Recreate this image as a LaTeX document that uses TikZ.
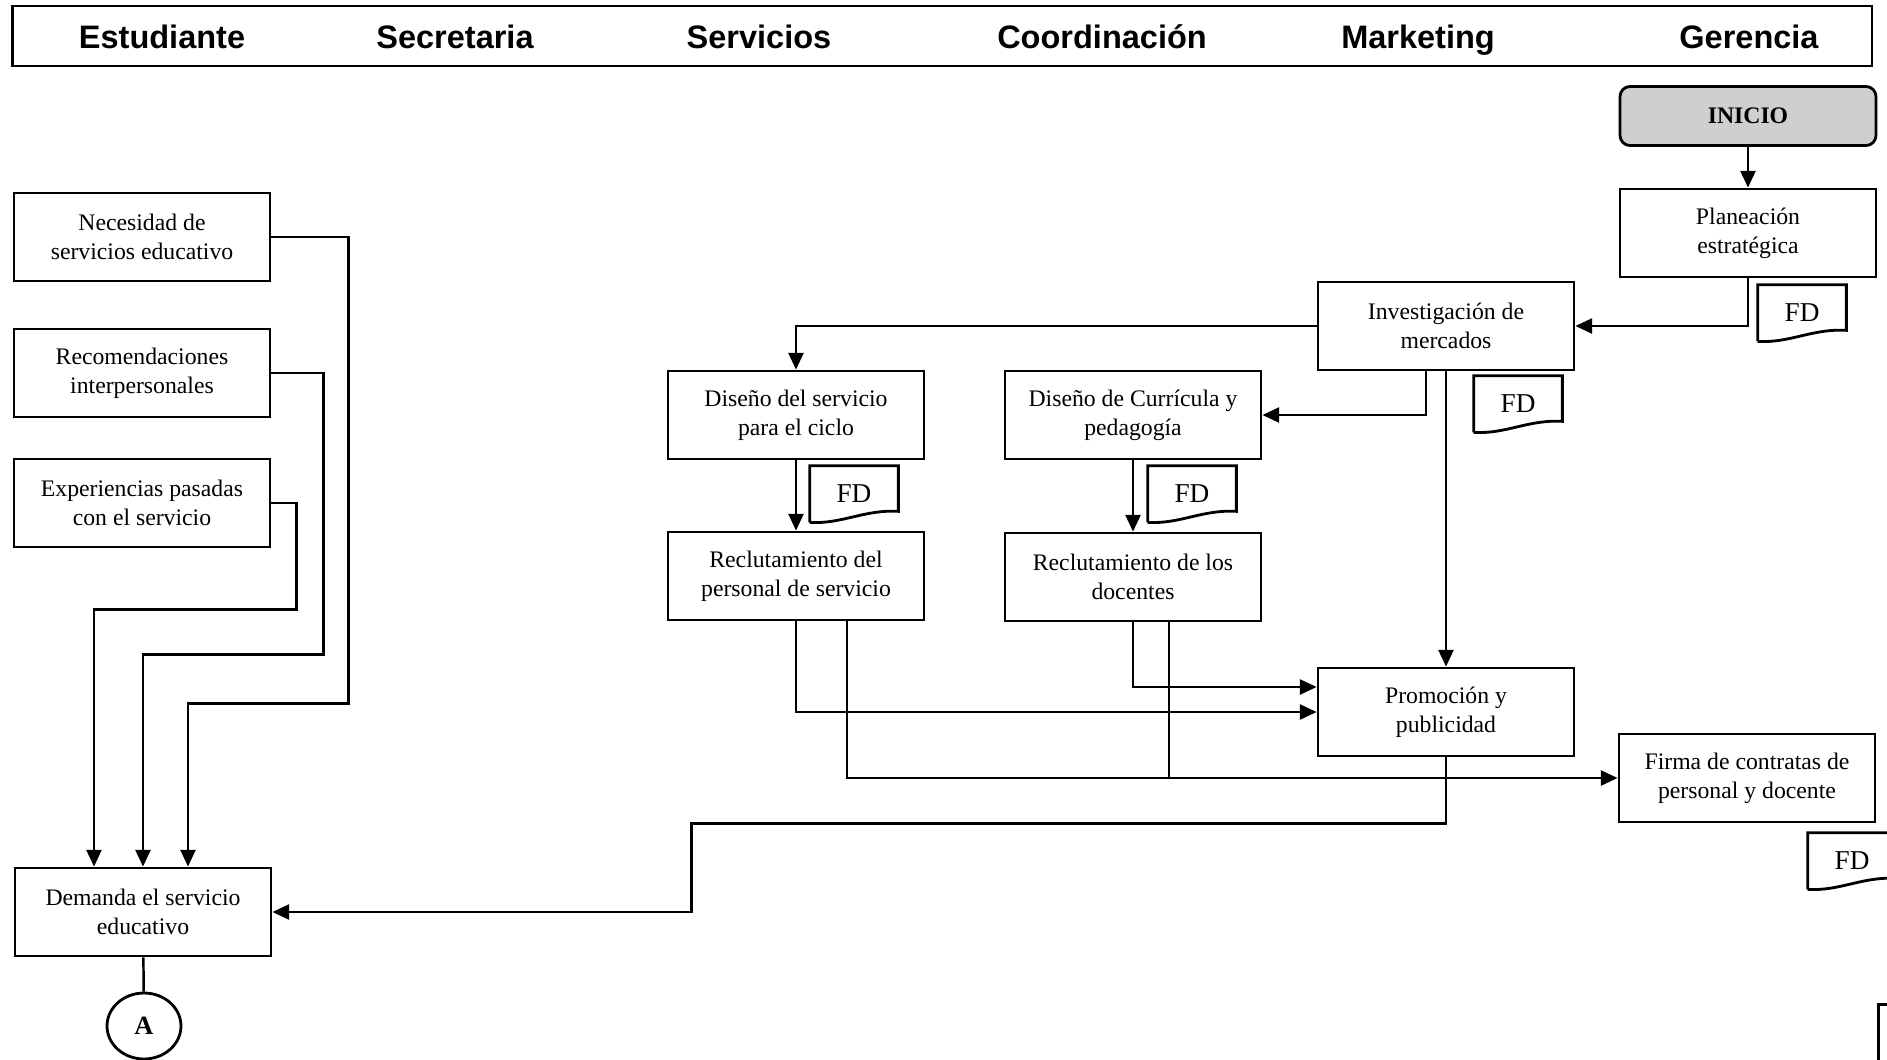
\documentclass[tikz,border=0pt]{standalone}
\usepackage{fontspec}
\setmainfont{Liberation Serif}
\newfontfamily\headfont{Liberation Sans}
\usetikzlibrary{calc, arrows.meta, shapes.geometric}

\tikzset{
    caja/.style={draw, line width=1.6pt, minimum width=5.12cm, minimum height=1.76cm,
        align=center, inner sep=2pt, font=\fontsize{13.5}{16.4}\selectfont},
    inicio/.style={caja, rounded corners=0.2cm, fill=gray!38, minimum height=1.18cm,
        font=\fontsize{13.5}{16}\selectfont\bfseries},
    fd/.style={minimum width=1.76cm, minimum height=1.12cm, inner sep=0pt,
        font=\fontsize{15.5}{18}\selectfont},
    conector/.style={ellipse, draw, line width=1.6pt, minimum width=1.48cm,
        minimum height=1.32cm, inner sep=0pt, font=\fontsize{15}{18}\selectfont\bfseries},
    carril/.style={font=\headfont\bfseries\fontsize{18.5}{22}\selectfont},
    linea/.style={line width=1.4pt},
    flecha/.style={linea, -{Triangle[length=9.5pt,width=8.5pt]}}
}

\begin{document}
\begin{tikzpicture}[x=0.02cm, y=-0.02cm]
    \useasboundingbox (0,0) rectangle (1887,1059);

    % encabezado
    \node[draw, line width=1.5pt, minimum width=37.2cm, minimum height=1.2cm, inner sep=0pt] (cab) at (942,36) {};
    \foreach \x/\t [count=\i] in {162/Estudiante, 455/Secretaria, 759/Servicios,
        1102/Coordinación, 1418/Marketing, 1749/Gerencia}
        \node[carril, anchor=base] (c\i) at (\x,48) {\t};

    % actividades
    \node[inicio] (inicio) at (1748,116) {INICIO};
    \node[caja] (plan) at (1748,233) {Planeación\\estratégica};
    \node[caja] (inv) at (1446,326) {Investigación de\\mercados};
    \node[caja] (dserv) at (796,415) {Diseño del servicio\\para el ciclo};
    \node[caja] (dcur) at (1133,415) {Diseño de Currícula y\\pedagogía};
    \node[caja] (rpers) at (796,576) {Reclutamiento del\\personal de servicio};
    \node[caja] (rdoc) at (1133,577) {Reclutamiento de los\\docentes};
    \node[caja] (promo) at (1446,712) {Promoción y\\publicidad};
    \node[caja] (firma) at (1747,778) {Firma de contratas de\\personal y docente};
    \node[caja, anchor=north west] (sig) at (1877,1003) {};

    \node[caja] (nec) at (142,237) {Necesidad de\\servicios educativo};
    \node[caja] (rec) at (142,373) {Recomendaciones\\interpersonales};
    \node[caja] (exp) at (142,503) {Experiencias pasadas\\con el servicio};
    \node[caja] (dem) at (143,912) {Demanda el servicio\\educativo};
    \node[conector] (A) at (144,1026) {A};

    % documentos
    \node[fd] (fd1) at (1802,313) {FD};
    \node[fd] (fd2) at (1518,404) {FD};
    \node[fd] (fd3) at (854,494) {FD};
    \node[fd] (fd4) at (1192,494) {FD};
    \node[fd] (fd5) at (1852,861) {FD};
    \foreach \d in {fd1,fd2,fd3,fd4,fd5}
        \draw[line width=1.6pt] (\d.south west) -- (\d.north west) -- (\d.north east)
            -- ($(\d.south east)+(0,-11)$) .. controls ($(\d.south)+(10,-13)$)
            and ($(\d.south)+(-12,2)$) .. (\d.south west);

    % conexiones gerencia y marketing
    \draw[flecha] (inicio) -- (plan);
    \draw[flecha] (plan.south) |- (inv.east);
    \draw[flecha] (inv.west) -| (dserv.north);
    \draw[flecha] ($(inv.south)+(-20,0)$) |- (dcur.east);
    \draw[flecha] (inv.south) -- (promo.north);
    \draw[flecha] (dserv) -- (rpers);
    \draw[flecha] (dcur) -- (rdoc);
    \draw[flecha] (rdoc.south) |- ($(promo.west)+(0,-25)$);
    \draw[flecha] (rpers.south) |- (promo.west);
    \draw[flecha] ($(rpers.south)+(51,0)$) |- (firma.west);
    \draw[linea] ($(rdoc.south)+(36,0)$) coordinate (j) -- (j |- firma.west);
    \draw[flecha] (promo.south) -- ++(0,66) -| ($(dem.east)+(419,0)$) -- (dem.east);

    % conexiones estudiante
    \draw[flecha] (nec.east) -- ++(77,0) |- ($(dem.north)+(45,-163)$) -- ($(dem.north)+(45,0)$);
    \draw[flecha] (rec.east) -- ++(52,0) |- ($(dem.north)+(0,-212)$) -- (dem.north);
    \draw[flecha] (exp.east) -- ++(25,0) |- ($(dem.north)+(-49,-257)$) -- ($(dem.north)+(-49,0)$);
    \draw[linea] (dem) -- (A);
\end{tikzpicture}
\end{document}
